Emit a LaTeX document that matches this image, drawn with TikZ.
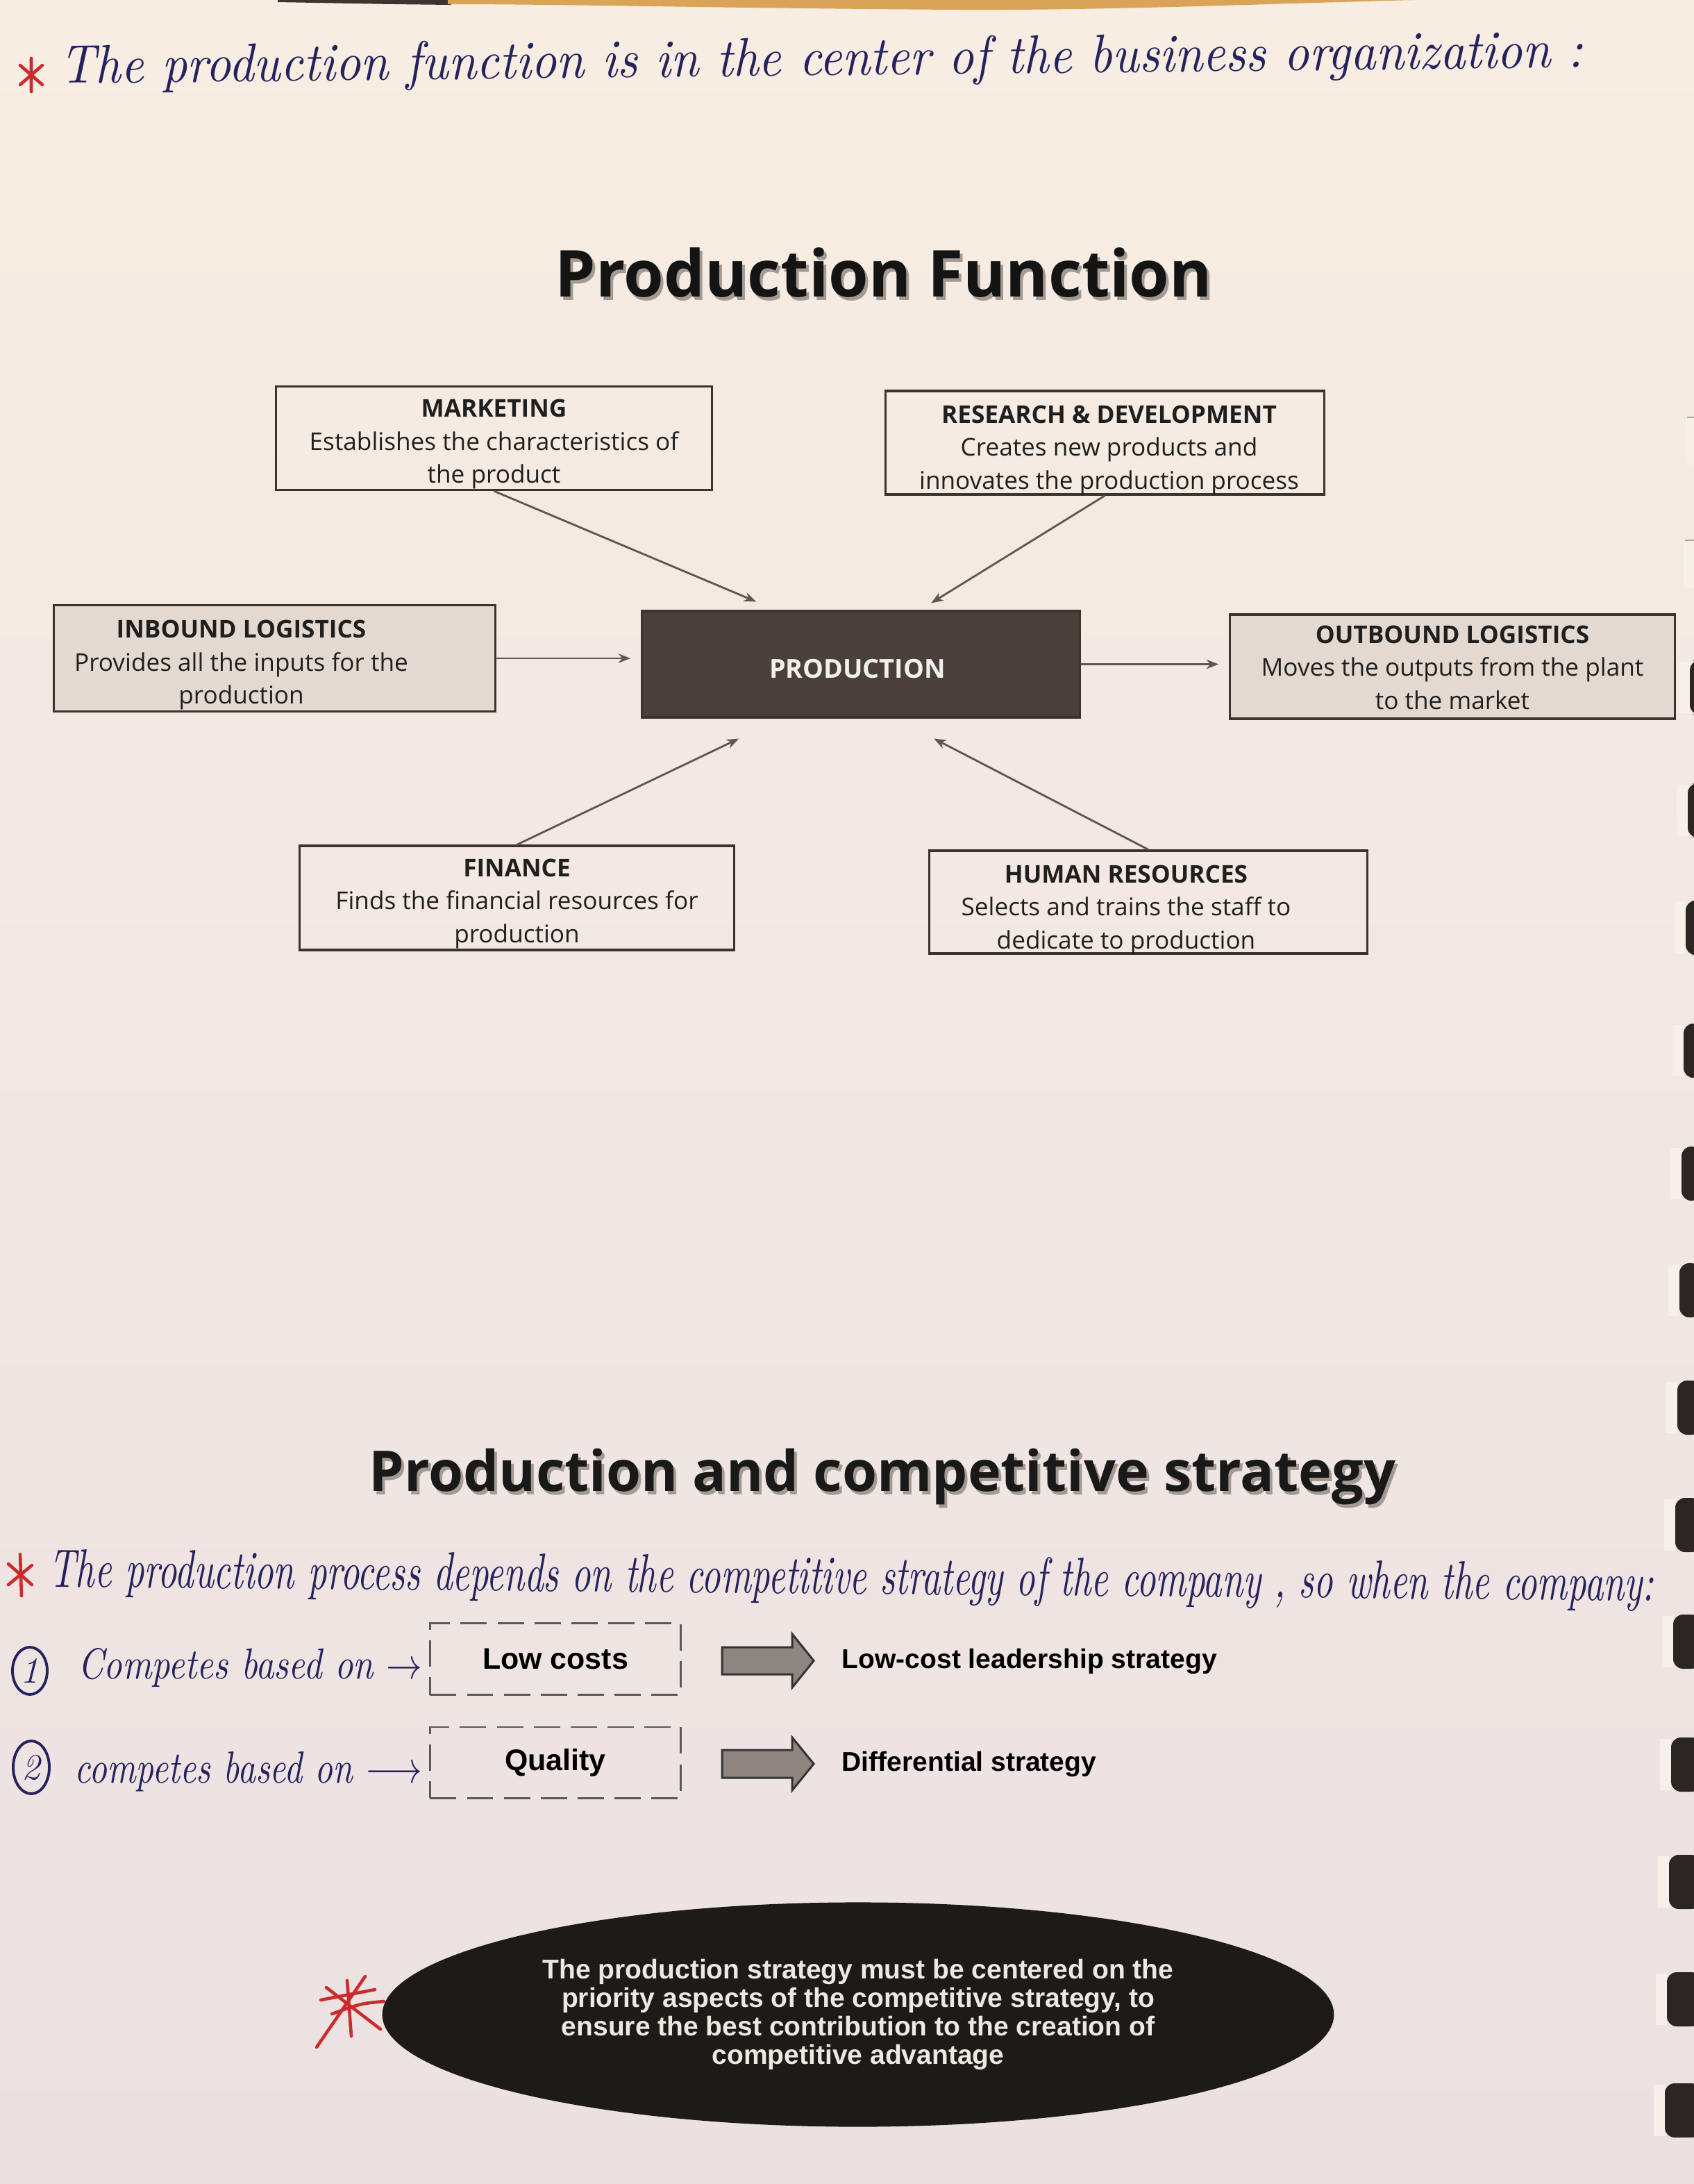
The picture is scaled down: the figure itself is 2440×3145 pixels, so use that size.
\documentclass[tikz,border=0pt]{standalone}
\usepackage{fontspec}
\usetikzlibrary{arrows.meta,calc,shapes.geometric}
\newfontfamily\osans{Open Sans}
\newfontfamily\lsans{Liberation Sans}

\definecolor{ink}{HTML}{25235E}
\definecolor{redink}{HTML}{CC2B2B}
\definecolor{boxline}{HTML}{3B332E}
\definecolor{prodfill}{HTML}{4B4039}
\definecolor{logfill}{HTML}{E4D9D1}
\definecolor{conn}{HTML}{5E5650}
\definecolor{pagetop}{HTML}{F8EDE2}
\definecolor{pagemid}{HTML}{F3E4DB}
\definecolor{pagebot}{HTML}{EBE1E2}
\definecolor{ovalfill}{HTML}{1E1A17}
\definecolor{ovaltext}{HTML}{EEE8E2}
\definecolor{blockfill}{HTML}{8C8580}
\definecolor{wood}{HTML}{D9A457}
\definecolor{woodtop}{HTML}{3A3530}
\definecolor{ring}{HTML}{2B2623}
\definecolor{ringlight}{HTML}{F6F0E9}
\definecolor{shadowgray}{HTML}{A39A92}

\begin{document}
\begin{tikzpicture}[x=0.01cm,y=-0.01cm,
  fbox/.style={draw=boxline, line width=0.9pt, inner sep=0pt, minimum height=1.49cm},
  boxtext/.style={anchor=north, inner sep=0pt, align=center, text=black!88,
    font=\osans\fontsize{10pt}{13.5pt}\selectfont},
  conn/.style={draw=conn, line width=0.8pt, -{Stealth[length=5pt,width=3.8pt]}},
  hand/.style={inner sep=0pt, text=ink, font=\itshape},
  redmark/.style={draw=redink, line width=1.3pt, line cap=round},
  title/.style={inner sep=0pt, anchor=base, font=\osans\bfseries\fontsize{#1}{#1}\selectfont},
  dashbox/.style={draw=black!65, line width=0.85pt, dash pattern=on 10.8pt off 4.3pt,
    inner sep=0pt, font=\lsans\bfseries\fontsize{12.2pt}{14pt}\selectfont},
  strat/.style={inner sep=0pt, anchor=base west, font=\lsans\bfseries\fontsize{11.1pt}{13pt}\selectfont},
  blockarrow/.style={fill=blockfill, draw=black!80, line width=0.85pt, line join=miter},
  oval/.style={ellipse, fill=ovalfill, inner sep=0pt, minimum width=13.7cm, minimum height=3.23cm,
    align=center, text=ovaltext, font=\lsans\bfseries\fontsize{11.1pt}{11.7pt}\selectfont}
]
\useasboundingbox (0,0) rectangle (2440,3145);

% page
\shade[top color=pagetop, middle color=pagemid, bottom color=pagebot] (0,0) rectangle (2440,3145);
\fill[woodtop] (400,0) -- (650,0) -- (650,7) .. controls (560,6) .. (400,3) -- cycle;
\fill[wood] (645,0) -- (2040,0) .. controls (1800,6) and (1600,15) .. (1380,14)
  .. controls (1050,12) and (820,6) .. (645,6) -- cycle;

% binding rings along the right edge
\foreach \yy/\xx in {635/2434, 812/2431}{
  \fill[ringlight] (\xx-6,\yy-34) rectangle (2440,\yy+34);
  \draw[black!35, line width=0.8pt] (\xx-4,\yy-34) -- (2440,\yy-34);
}
\foreach \yy/\xx in {989/2430, 1166/2427, 1335/2424, 1512/2421, 1689/2418, 1857/2415,
  2026/2412, 2195/2409, 2363/2406, 2540/2403, 2709/2400, 2878/2397, 3038/2394}{
  \fill[ringlight] (\xx-12,\yy-36) rectangle (\xx+4,\yy+38);
  \fill[ring, rounded corners=4pt] (\xx+4,\yy-38) rectangle (2450,\yy+40);
}

% handwritten note on the first section
\coordinate (s1) at (45,108);
\draw[redmark] (s1) ++(0,-24) -- ++(0,48) (s1) ++(-16,-14) -- ++(32,28) (s1) ++(-16,14) -- ++(32,-28);
\node[hand, anchor=base west, rotate=0.6] (note1) at (86,120)
  {\resizebox{21.93cm}{0.55cm}{The production function is in the center of the business organization :}};

% title
\node[title=26.5pt, text=shadowgray] (t1s) at (1277,432) {Production Function};
\node[title=26.5pt, text=black!92] (t1) at (1273,427) {Production Function};

% boxes of the production function
\node[fbox, minimum width=6.27cm] (mkt) at (711.5,631) {};
\node[boxtext] (mktt) at ($(mkt.north)+(0,10)$)
  {\rule{0pt}{10pt}\textbf{MARKETING}\\Establishes the characteristics of\\the product};

\node[fbox, minimum width=6.31cm] (rd) at (1591.5,637.5) {};
\node[boxtext] (rdt) at ($(rd.north)+(6,12)$)
  {\rule{0pt}{10pt}\textbf{RESEARCH \& DEVELOPMENT}\\Creates new products and\\innovates the production process};

\node[fbox, fill=logfill, minimum width=6.35cm, minimum height=1.53cm] (inb) at (395.5,948) {};
\node[boxtext] (inbt) at ($(inb.north)+(-48,13)$)
  {\rule{0pt}{10pt}\textbf{INBOUND LOGISTICS}\\Provides all the inputs for the\\production};

\node[fbox, fill=prodfill, draw=prodfill!80!black, minimum width=6.3cm, minimum height=1.53cm] (prod) at (1240,956.5) {};
\node[inner sep=0pt, text=white!92!prodfill, font=\osans\bfseries\fontsize{10.7pt}{12pt}\selectfont]
  (prodt) at ($(prod.center)+(-5,7)$) {PRODUCTION};

\node[fbox, fill=logfill, minimum width=6.4cm, minimum height=1.5cm] (outb) at (2092,960) {};
\node[boxtext] (outbt) at ($(outb.north)+(0,7)$)
  {\rule{0pt}{10pt}\textbf{OUTBOUND LOGISTICS}\\Moves the outputs from the plant\\to the market};

\node[fbox, minimum width=6.25cm, minimum height=1.5cm] (fin) at (744.5,1293) {};
\node[boxtext] (fint) at ($(fin.north)+(0,10)$)
  {\rule{0pt}{10pt}\textbf{FINANCE}\\Finds the financial resources for\\production};

\node[fbox, minimum width=6.3cm, minimum height=1.48cm] (hr) at (1654,1299) {};
\node[boxtext] (hrt) at ($(hr.north)+(-32,12)$)
  {\rule{0pt}{10pt}\textbf{HUMAN RESOURCES}\\Selects and trains the staff to\\dedicate to production};

% connectors into and out of production
\draw[conn] (mkt.south) -- ($(prod.north west)+(166,-12)$);
\draw[conn] (rd.south) -- ($(prod.north west)+(418,-10)$);
\draw[conn, shorten >=0.15cm] (inb.east) -- (inb.east -| prod.west);
\draw[conn, shorten >=0.15cm] (prod.east) -- (prod.east -| outb.west);
\draw[conn] (fin.north) -- ($(prod.south west)+(141,29)$);
\draw[conn] (hr.north) -- ($(prod.south west)+(422,29)$);

% second section
\node[title=23pt, text=shadowgray] (t2s) at (1275,2152) {Production and competitive strategy};
\node[title=23pt, text=black!90] (t2) at (1271,2147) {Production and competitive strategy};

\coordinate (s2) at (29,2268);
\draw[redmark] (s2) ++(0,-30) -- ++(2,60) (s2) ++(-17,-16) -- ++(34,30) (s2) ++(-17,14) -- ++(34,-28);
\node[hand, anchor=base west, rotate=-0.5] (note2) at (70,2285)
  {\resizebox{23.1cm}{0.55cm}{The production process depends on the competitive strategy of the company , so when the company:}};

\node[draw=ink, ellipse, line width=1.1pt, minimum width=0.5cm, minimum height=0.68cm, inner sep=0pt,
  hand, font=\itshape\fontsize{15pt}{15pt}\selectfont] (c1) at (43,2406) {1};
\node[hand, anchor=base west] (note3) at (112,2417)
  {\resizebox{4.95cm}{0.44cm}{Competes based on $\rightarrow$}};
\node[draw=ink, ellipse, line width=1.1pt, minimum width=0.52cm, minimum height=0.76cm, inner sep=0pt,
  hand, font=\itshape\fontsize{15pt}{15pt}\selectfont] (c2) at (45,2545) {2};
\node[hand, anchor=base west] (note4) at (107,2567)
  {\resizebox{5cm}{0.45cm}{competes based on $\longrightarrow$}};

\node[dashbox, minimum width=3.61cm, minimum height=1.03cm] (lc) at (800,2389) {Low costs};
\node[dashbox, minimum width=3.61cm, minimum height=1.02cm] (ql) at (800,2538) {Quality};

\node[strat] (lcs) at (1212,2402) {Low-cost leadership strategy};
\node[strat] (qls) at (1212,2550) {Differential strategy};

\draw[blockarrow] (lc.east) ++(58,-17) -- ++(101,0) -- ++(0,-19) -- ++(31,38.5) -- ++(-31,38.5) -- ++(0,-19) -- ++(-101,0) -- cycle;
\draw[blockarrow] (ql.east) ++(58,-18) -- ++(101,0) -- ++(0,-18) -- ++(31,38) -- ++(-31,38) -- ++(0,-18) -- ++(-101,0) -- cycle;

% key message
\node[oval] (adv) at (1236,2901)
  {The production strategy must be centered on the\\priority aspects of the competitive strategy, to\\ensure the best contribution to the creation of\\competitive advantage};

\coordinate (s3) at (505,2895);
\draw[redmark] (456,2948) -- (526,2846)
  (470,2862) -- (548,2922)
  (478,2900) .. controls (520,2885) .. (553,2882)
  (500,2852) -- (506,2932)
  (462,2880) -- (540,2865);
\end{tikzpicture}
\end{document}
